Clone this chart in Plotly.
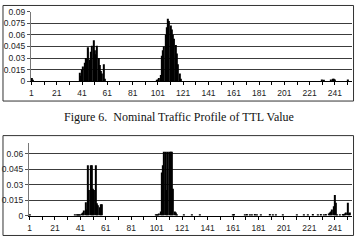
import plotly.graph_objects as go

# ---------------- data ----------------
# Figure 6 (top): nominal traffic profile of TTL value (non-zero bins only)
nominal_ttl = [1, 2,
               39, 40, 41, 42, 43, 44, 45, 46, 47, 48, 49, 50, 51, 52, 53, 54, 55, 56, 57, 58, 59,
               100, 101, 102, 103, 104, 105, 106, 107, 108, 109, 110, 111, 112, 113, 114, 115, 116, 117, 118, 119,
               231, 232, 238, 239, 240, 241, 251]
nominal_val = [0.004, 0.001,
               0.011, 0.007, 0.015, 0.019, 0.024, 0.030, 0.029, 0.044, 0.028, 0.038, 0.046, 0.053, 0.040,
               0.035, 0.046, 0.030, 0.021, 0.013, 0.010, 0.022, 0.003,
               0.001, 0.002, 0.004, 0.008, 0.033, 0.040, 0.045, 0.060, 0.070, 0.081, 0.078, 0.072, 0.067,
               0.060, 0.055, 0.047, 0.036, 0.022, 0.010, 0.003,
               0.002, 0.001, 0.002, 0.003, 0.003, 0.002, 0.002]

# bottom chart: observed traffic profile of TTL value (non-zero bins only)
observed_ttl = [1,
                37, 38, 39, 40, 41, 42, 43, 44, 45, 46, 47, 48, 49, 50, 51, 52, 53, 54, 55, 56, 57, 58,
                100, 101, 102, 103, 104, 105, 106, 107, 108, 109, 110, 111, 112, 113, 114, 115, 116, 117,
                122, 129, 135, 161, 162, 170, 172, 174, 176, 178, 180, 183, 190, 192, 195, 200, 211, 217,
                220, 224, 228, 230, 232, 234, 236, 237, 238, 239, 240, 241, 242, 243, 245, 247, 248, 249,
                250, 251, 252, 253]
observed_val = [0.001,
                0.001, 0.001, 0.001, 0.001, 0.001, 0.002, 0.003, 0.005, 0.013, 0.006, 0.049, 0.025, 0.049,
                0.049, 0.026, 0.025, 0.049, 0.012, 0.010, 0.008, 0.011, 0.011,
                0.001, 0.001, 0.001, 0.002, 0.004, 0.042, 0.049, 0.062, 0.062, 0.025, 0.062, 0.062, 0.062,
                0.062, 0.026, 0.004, 0.003, 0.001,
                0.001, 0.001, 0.0008, 0.001, 0.0015, 0.001, 0.0015, 0.001, 0.001, 0.0015, 0.001, 0.001,
                0.0015, 0.001, 0.001, 0.001, 0.001, 0.001, 0.001, 0.0015, 0.001, 0.0015, 0.001, 0.0015,
                0.002, 0.003, 0.004, 0.006, 0.009, 0.020, 0.0125, 0.001, 0.001, 0.0015, 0.0015, 0.002,
                0.003, 0.0125, 0.002, 0.003]

x_tickvals = [1, 11, 21, 31, 41, 51, 61, 71, 81, 91, 101, 111, 121, 131, 141, 151, 161, 171,
              181, 191, 201, 211, 221, 231, 241, 251]
x_ticktext = ["1", "", "21", "", "41", "", "61", "", "81", "", "101", "", "121", "", "141", "",
              "161", "", "181", "", "201", "", "221", "", "241", ""]

top_yvals = [0, 0.015, 0.03, 0.045, 0.06, 0.075, 0.09]
top_ytext = ["0", "0.015", "0.03", "0.045", "0.06", "0.075", "0.09"]
bot_yvals = [0, 0.015, 0.03, 0.045, 0.06]
bot_ytext = ["0", "0.015", "0.03", "0.045", "0.06"]

caption = "Figure 6.  Nominal Traffic Profile of TTL Value"

# ---------------- figure ----------------
W, H = 358, 252
def px(x): return x / W
def py(y): return 1 - y / H

fig = go.Figure()
fig.add_trace(go.Bar(x=nominal_ttl, y=nominal_val, marker=dict(color="black", line=dict(width=0)),
                     xaxis="x", yaxis="y", showlegend=False, hoverinfo="x+y"))
fig.add_trace(go.Bar(x=observed_ttl, y=observed_val, marker=dict(color="black", line=dict(width=0)),
                     xaxis="x2", yaxis="y2", showlegend=False, hoverinfo="x+y"))

tickfont = dict(family="Liberation Sans, Arial, sans-serif", size=8.5, color="#222")
xcommon = dict(range=[0.5, 254.5], tickmode="array", tickvals=x_tickvals, ticktext=x_ticktext,
               ticks="outside", ticklen=3, tickcolor="black", tickwidth=1,
               showline=True, linecolor="black", linewidth=1, showgrid=False, zeroline=False,
               tickfont=tickfont, ticklabelstandoff=1, fixedrange=True)
ycommon = dict(tickmode="array", ticks="outside", ticklen=3, tickcolor="#555", tickwidth=1,
               showline=True, linecolor="#777", linewidth=1, showgrid=True, gridcolor="#3c3c3c",
               gridwidth=1, zeroline=False, tickfont=tickfont, fixedrange=True)

fig.update_layout(
    width=W, height=H, margin=dict(l=0, r=0, t=0, b=0),
    paper_bgcolor="white", plot_bgcolor="white",
    bargap=0.12,
    xaxis=dict(domain=[px(29), px(352)], anchor="y", **xcommon),
    yaxis=dict(domain=[py(79.3), py(7)], anchor="x", range=[0, 0.09],
               tickvals=top_yvals, ticktext=top_ytext, **ycommon),
    xaxis2=dict(domain=[px(27), px(352)], anchor="y2", **xcommon),
    yaxis2=dict(domain=[py(219.3), py(144)], anchor="x2", range=[0, 0.0703],
                tickvals=bot_yvals, ticktext=bot_ytext, **ycommon),
    shapes=[
        dict(type="rect", xref="paper", yref="paper", x0=px(1), x1=px(353.5), y0=py(100), y1=py(0.5),
             line=dict(color="#333", width=1), fillcolor="rgba(0,0,0,0)", layer="above"),
        dict(type="rect", xref="paper", yref="paper", x0=px(1), x1=px(353.5), y0=py(240), y1=py(136),
             line=dict(color="#333", width=1), fillcolor="rgba(0,0,0,0)", layer="above"),
    ],
    annotations=[
        dict(text=caption, xref="paper", yref="paper", x=px(178), y=py(117), xanchor="center",
             yanchor="middle", showarrow=False,
             font=dict(family="Liberation Serif, Times New Roman, serif", size=12, color="#111")),
    ],
)

fig.write_html("out.html")
